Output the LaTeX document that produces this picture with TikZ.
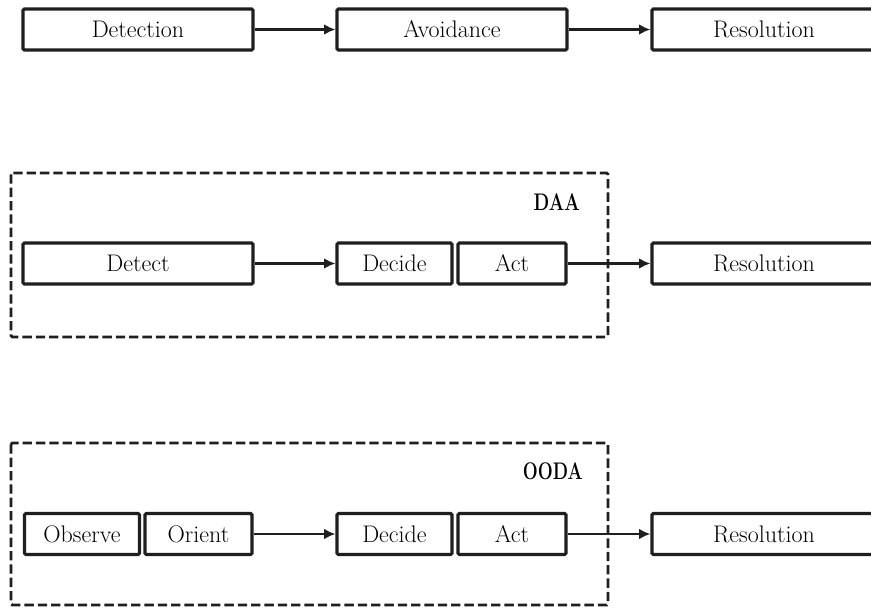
\documentclass[tikz,border=0pt]{standalone}
\usetikzlibrary{arrows.meta}
\begin{document}
\begin{tikzpicture}[x=0.75pt,y=-0.75pt,
  bx/.style={draw=black!88, line width=2.3pt, rounded corners=1pt, minimum height=30.75pt,
    inner sep=0pt, font=\fontsize{18}{20}\selectfont},
  grp/.style={draw=black!88, line width=2.2pt, dash pattern=on 7pt off 3pt, rounded corners=1pt},
  lbl/.style={anchor=east, inner sep=0pt, font=\fontsize{18}{20}\selectfont\bfseries},
  arr/.style={draw=black!88, line width=1.7pt, -{Latex[length=8.5pt,width=8pt]}}]
\clip (0,0) rectangle (871,607);
\fill[white] (0,0) rectangle (871,607);
% dashed groups
\draw[grp] (11,173) rectangle (608,337);
\draw[grp] (11,443) rectangle (608,605);
\node[lbl] (daa) at (580,202) {\scalebox{0.76}[1]{DAA}};
\node[lbl] (ooda) at (583,471) {\scalebox{0.74}[1]{OODA}};
% row 1
\node[bx, minimum width=172.5pt] (detection) at (138,29.5) {Detection};
\node[bx, minimum width=172.5pt] (avoidance) at (452,29.5) {Avoidance};
\node[bx, minimum width=168pt] (res1) at (764,29.5) {Resolution};
% row 2
\node[bx, minimum width=172.5pt] (detect) at (138,263.5) {Detect};
\node[bx, minimum width=86.25pt] (decide2) at (394.5,263.5) {Decide};
\node[bx, minimum width=81pt] (act2) at (512,263.5) {Act};
\node[bx, minimum width=168pt] (res2) at (764,263.5) {Resolution};
% row 3
\node[bx, minimum width=86.25pt] (observe) at (82,534) {Observe};
\node[bx, minimum width=80.25pt] (orient) at (198.5,534) {Orient};
\node[bx, minimum width=86.25pt] (decide3) at (394.5,534) {Decide};
\node[bx, minimum width=81pt] (act3) at (512,534) {Act};
\node[bx, minimum width=168pt] (res3) at (764,534) {Resolution};
% arrows
\draw[arr] (detection) -- (avoidance);
\draw[arr] (avoidance) -- (res1);
\draw[arr] (detect) -- (decide2);
\draw[arr] (act2) -- (res2);
\draw[arr] (orient) -- (decide3);
\draw[arr] (act3) -- (res3);
\end{tikzpicture}
\end{document}
